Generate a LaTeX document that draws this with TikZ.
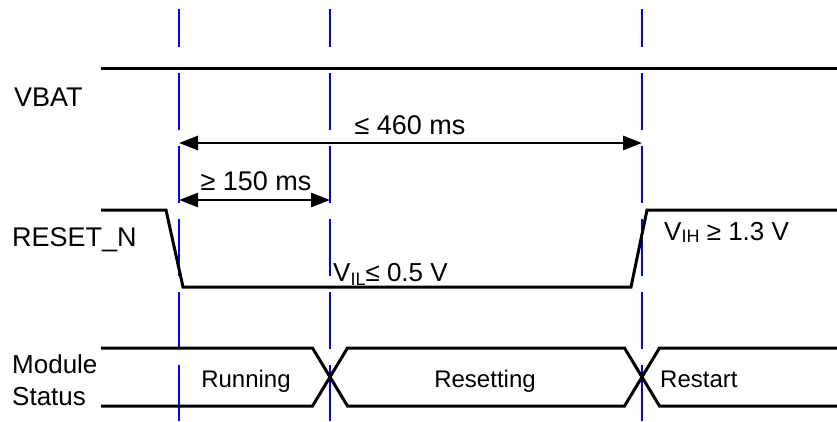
\documentclass[tikz,border=0pt]{standalone}
\usepackage{fontspec}
\setmainfont{Liberation Sans}
\usetikzlibrary{arrows.meta}
\begin{document}
\begin{tikzpicture}[x=1pt,y=-1pt,
  signal/.style={line width=3pt,line join=miter},
  marker/.style={draw=blue,line width=2.6pt},
  span/.style={line width=2.8pt,{Triangle[length=19pt,width=14pt]}-{Triangle[length=19pt,width=14pt]}},
  lbl/.style={inner sep=0pt,anchor=base west,font=\fontsize{27}{30}\selectfont},
  txt/.style={inner sep=0pt,anchor=base,font=\fontsize{26}{30}\selectfont}]
\useasboundingbox (0,0) rectangle (837,421);

% time markers
\foreach \x/\n in {179/a,330/b,642/c}{
  \coordinate (\n top) at (\x,9);
  \coordinate (\n mid) at (\x,47);
  \coordinate (\n start) at (\x,73);
  \coordinate (\n end) at (\x,421);
  \draw[marker] (\n top) -- (\n mid);
  \draw[marker,dash pattern=on 57pt off 16pt] (\n start) -- (\n end);
}

% signal names
\node[lbl] (vbat) at (14,106) {VBAT};
\node[lbl] (rst) at (12,246) {RESET\_N};
\node[lbl,font=\fontsize{26}{30}\selectfont] (mod) at (12,373) {Module};
\node[lbl,font=\fontsize{26}{30}\selectfont] (stat) at (12,405) {Status};

% VBAT
\coordinate (v0) at (101,68);
\coordinate (v1) at (837,68);
\draw[signal] (v0) -- (v1);

% RESET_N
\coordinate (r0) at (101,210);
\coordinate (r1) at (166,210);
\coordinate (r2) at (183,287);
\coordinate (r3) at (631,287);
\coordinate (r4) at (647,210);
\coordinate (r5) at (837,210);
\draw[signal] (r0) -- (r1) -- (r2) -- (r3) -- (r4) -- (r5);

% Module status bus
\def\h{17.5}
\draw[signal] (101,348) -- (330-\h,348) -- (330+\h,406) -- (642-\h,406) -- (642+\h,348) -- (837,348);
\draw[signal] (101,406) -- (330-\h,406) -- (330+\h,348) -- (642-\h,348) -- (642+\h,406) -- (837,406);

% timing spans
\coordinate (s1a) at (179,143);
\coordinate (s1b) at (642,143);
\draw[span] (s1a) -- (s1b);
\node[txt,font=\fontsize{27}{30}\selectfont] (t460) at (410,134) {≤ 460 ms};
\coordinate (s2a) at (179,200);
\coordinate (s2b) at (330,200);
\draw[span] (s2a) -- (s2b);
\node[txt,font=\fontsize{27}{30}\selectfont] (t150) at (256,190) {≥ 150 ms};

% levels
\node[lbl,font=\fontsize{26}{30}\selectfont] (vil) at (333,281) {V\raisebox{-0.35ex}{\fontsize{18}{20}\selectfont IL}≤ 0.5 V};
\node[lbl,font=\fontsize{26}{30}\selectfont] (vih) at (664,240) {V\raisebox{-0.2ex}{\fontsize{18}{20}\selectfont IH} ≥ 1.3 V};

% states
\node[txt,font=\fontsize{24}{28}\selectfont] (run) at (246,387) {Running};
\node[txt,font=\fontsize{24}{28}\selectfont] (rsg) at (485,387) {Resetting};
\node[lbl,font=\fontsize{24}{28}\selectfont] (rst2) at (660,387) {Restart};
\end{tikzpicture}
\end{document}
